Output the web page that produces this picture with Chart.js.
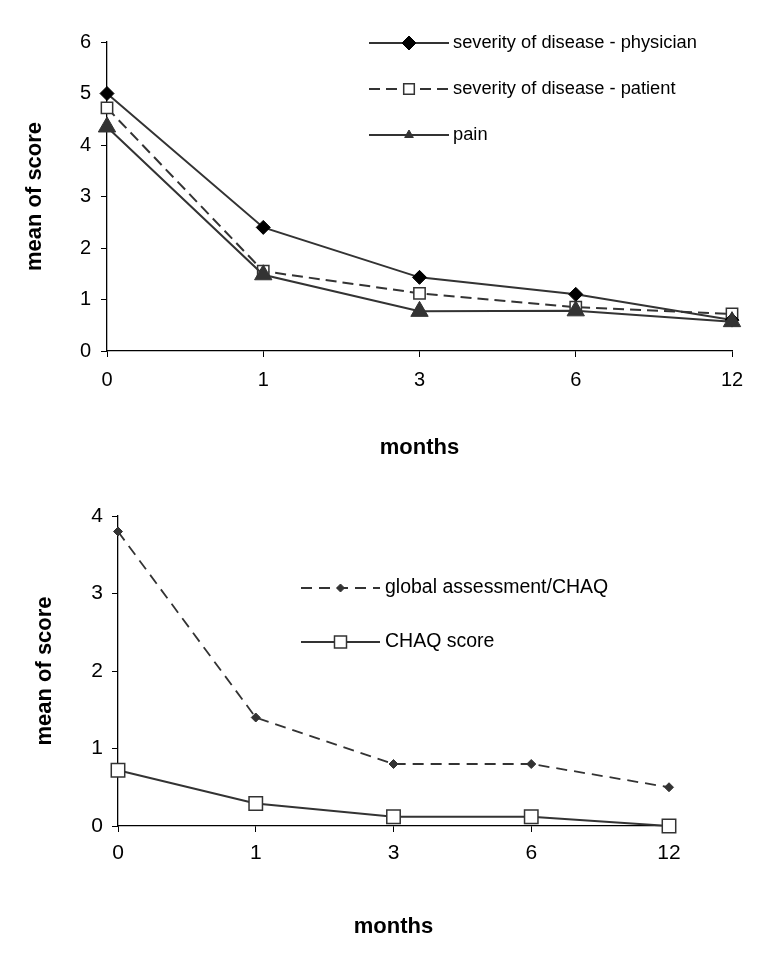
<!DOCTYPE html>
<html>
<head>
<meta charset="utf-8">
<script src="https://cdn.jsdelivr.net/npm/chart.js@4/dist/chart.umd.min.js"></script>
<style>
body { margin: 0; background: #fff; }
canvas { display: block; }
</style>
</head>
<body>
<canvas id="top-chart" width="761" height="480"></canvas>
<canvas id="bottom-chart" width="761" height="477"></canvas>
<script>
// months of follow-up (category axis)
const months = ['0', '1', '3', '6', '12']

// upper chart
const physician = [5.0, 2.4, 1.43, 1.1, 0.6]
const patient = [4.72, 1.55, 1.12, 0.85, 0.72]
const pain = [4.35, 1.48, 0.77, 0.78, 0.57]

// lower chart
const globalChaq = [3.8, 1.4, 0.8, 0.8, 0.5]
const chaqScore = [0.72, 0.29, 0.12, 0.12, 0]

const FONT = '"Liberation Sans", Arial, sans-serif'
const INK = '#333'

// legend drawn as excel does: a line segment with the marker in the middle
const lineLegend = {
    id: 'lineLegend',
    afterDraw(chart, args, opts) {
        const ctx = chart.ctx
        ctx.save()
        chart.data.datasets.forEach((ds, i) => {
            const y = opts.top + i * opts.rowGap
            ctx.strokeStyle = ds.borderColor
            ctx.lineWidth = ds.borderWidth
            ctx.setLineDash(ds.borderDash || [])
            ctx.beginPath()
            ctx.moveTo(opts.left, y)
            ctx.lineTo(opts.left + opts.lineLen, y)
            ctx.stroke()
            ctx.setLineDash([])
            ctx.fillStyle = ds.pointBackgroundColor
            ctx.strokeStyle = ds.pointBorderColor
            ctx.lineWidth = ds.pointBorderWidth
            Chart.helpers.drawPoint(ctx, {
                pointStyle: ds.pointStyle,
                rotation: 0,
                radius: opts.radius[i],
                borderWidth: ds.pointBorderWidth,
            }, opts.left + opts.lineLen / 2, y)
            ctx.fillStyle = '#000'
            ctx.font = opts.font
            ctx.textBaseline = 'middle'
            ctx.textAlign = 'left'
            ctx.fillText(ds.label, opts.left + opts.lineLen + opts.textGap, y)
        })
        ctx.restore()
    }
}

function makeScales(o) {
    return {
        x: {
            type: 'category',
            offset: false,
            grid: { drawOnChartArea: false, tickLength: 6, color: '#000' },
            border: { color: '#000', width: 1.3 },
            ticks: { color: '#000', padding: o.xPad, maxRotation: 0, font: { family: FONT, size: o.tickSize } },
            title: {
                display: true, text: 'months', color: '#000',
                font: { family: FONT, size: 22, weight: 'bold' },
                padding: { top: 0, bottom: o.xTitlePad },
            },
            afterFit: s => { s.height = o.xH },
        },
        y: {
            min: 0,
            max: o.yMax,
            grid: { drawOnChartArea: false, tickLength: 6, color: '#000' },
            border: { color: '#000', width: 1.3 },
            ticks: { stepSize: 1, color: '#000', padding: o.yPad, font: { family: FONT, size: o.tickSize } },
            title: {
                display: true, text: 'mean of score', color: '#000',
                font: { family: FONT, size: 22, weight: 'bold' },
                padding: { top: o.yTitlePad, bottom: 0 },
            },
            afterFit: s => { s.width = o.yW },
        },
    }
}

const topData = {
    labels: months,
    datasets: [
        {
            label: 'severity of disease - physician',
            data: physician,
            borderColor: INK, borderWidth: 2,
            pointStyle: 'rectRot', pointRadius: 7,
            pointBackgroundColor: '#000', pointBorderColor: '#000', pointBorderWidth: 1,
            order: 1, clip: false,
        },
        {
            label: 'severity of disease - patient',
            data: patient,
            borderColor: INK, borderWidth: 2, borderDash: [11, 6],
            pointStyle: 'rect', pointRadius: 8,
            pointBackgroundColor: '#fff', pointBorderColor: INK, pointBorderWidth: 1.5,
            order: 2, clip: false,
        },
        {
            label: 'pain',
            data: pain,
            borderColor: INK, borderWidth: 2,
            pointStyle: 'triangle', pointRadius: 10,
            pointBackgroundColor: INK, pointBorderColor: INK, pointBorderWidth: 1,
            order: 0, clip: false,
        },
    ],
}

const topConfig = {
    type: 'line',
    data: topData,
    plugins: [lineLegend],
    options: {
        responsive: false,
        animation: false,
        devicePixelRatio: 1,
        layout: { padding: { left: 0, right: 29, top: 42, bottom: 0 } },
        scales: makeScales({ yMax: 6, xH: 129, yW: 107, xPad: 11, yPad: 10, xTitlePad: 19, yTitlePad: 22, tickSize: 20 }),
        plugins: {
            legend: { display: false },
            tooltip: { enabled: false },
            lineLegend: { left: 369, top: 43, rowGap: 46, lineLen: 80, textGap: 4, radius: [7, 7.5, 5], font: '18.3px ' + FONT },
        }
    }
}

const bottomData = {
    labels: months,
    datasets: [
        {
            label: 'global assessment/CHAQ',
            data: globalChaq,
            borderColor: INK, borderWidth: 1.8, borderDash: [11, 7],
            pointStyle: 'rectRot', pointRadius: 4.5,
            pointBackgroundColor: INK, pointBorderColor: INK, pointBorderWidth: 1,
            clip: false,
        },
        {
            label: 'CHAQ score',
            data: chaqScore,
            borderColor: INK, borderWidth: 2,
            pointStyle: 'rect', pointRadius: 9.5,
            pointBackgroundColor: '#fff', pointBorderColor: INK, pointBorderWidth: 1.5,
            clip: false,
        },
    ],
}

const bottomConfig = {
    type: 'line',
    data: bottomData,
    plugins: [lineLegend],
    options: {
        responsive: false,
        animation: false,
        devicePixelRatio: 1,
        layout: { padding: { left: 0, right: 92, top: 36, bottom: 0 } },
        scales: makeScales({ yMax: 4, xH: 131, yW: 118, xPad: 9, yPad: 9, xTitlePad: 17, yTitlePad: 32, tickSize: 21 }),
        plugins: {
            legend: { display: false },
            tooltip: { enabled: false },
            lineLegend: { left: 301, top: 108, rowGap: 54, lineLen: 79, textGap: 5, radius: [4, 8.5], font: '19.5px ' + FONT },
        }
    }
}

const topChart = new Chart(document.getElementById('top-chart'), topConfig)
const bottomChart = new Chart(document.getElementById('bottom-chart'), bottomConfig)
</script>
</body>
</html>
